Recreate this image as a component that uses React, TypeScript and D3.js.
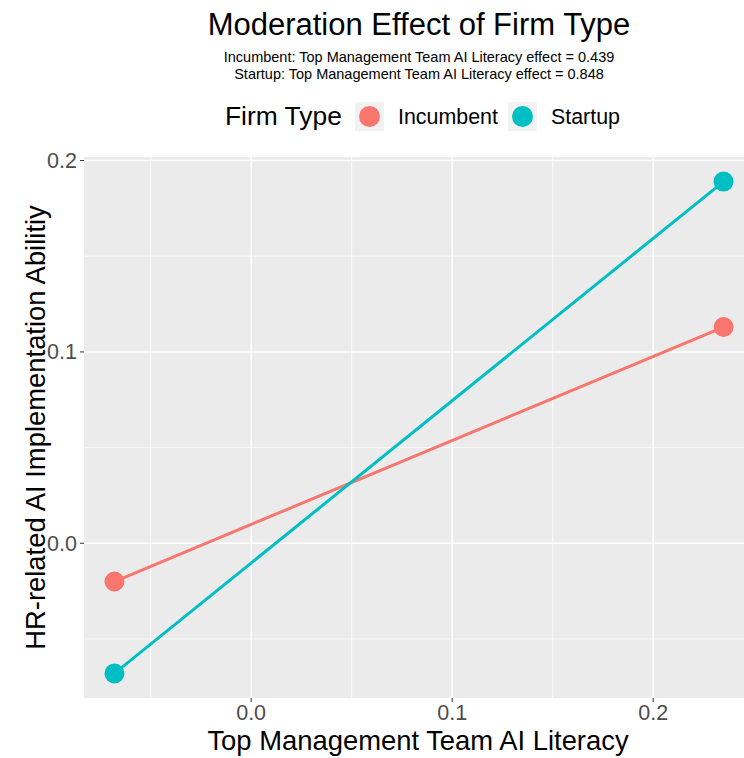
import React from "react";
import * as d3 from "d3";

const seriesNames = ["Incumbent", "Startup"];
const seriesColors = ["#F8766D", "#00BFC4"];
const xValues = [-0.068, 0.235];
const incumbentValues = [-0.02, 0.113];
const startupValues = [-0.068, 0.189];
const effects = ["0.439", "0.848"];
const xTicks = [0.0, 0.1, 0.2];
const yTicks = [0.0, 0.1, 0.2];
const xMinor = [-0.05, 0.05, 0.15];
const yMinor = [-0.05, 0.05, 0.15];

const W = 744;
const H = 758;
const FONT = "'Liberation Sans', Arial, Helvetica, sans-serif";

export default function App() {
  const allY = [...incumbentValues, ...startupValues];
  const xMin = d3.min(xValues)!, xMax = d3.max(xValues)!;
  const yMin = d3.min(allY)!, yMax = d3.max(allY)!;
  const xe = (xMax - xMin) * 0.05;
  const ye = (yMax - yMin) * 0.05;
  const x = d3.scaleLinear().domain([xMin - xe, xMax + xe]).range([84, 754]);
  const y = d3.scaleLinear().domain([yMin - ye, yMax + ye]).range([698, 157]);
  const [px0, px1] = x.range();
  const [py0, py1] = y.range();
  const series = [incumbentValues, startupValues];
  const line = d3.line<number>().x((_, i) => x(xValues[i])).y((d) => y(d));
  const cx = (px0 + px1) / 2;
  const cy = (py0 + py1) / 2;
  const keyX = [355, 508];

  return (
    <svg width={W} height={H} style={{ position: "absolute", left: 0, top: 0, background: "#fff" }} fontFamily={FONT}>
      <rect x={0} y={0} width={W} height={H} fill="#fff" />
      <text x={cx} y={35} textAnchor="middle" fontSize={31} fill="#000">Moderation Effect of Firm Type</text>
      <text x={cx} y={61.5} textAnchor="middle" fontSize={14.5} fill="#000">
        {`${seriesNames[0]}: Top Management Team AI Literacy effect = ${effects[0]}`}
      </text>
      <text x={cx} y={78.5} textAnchor="middle" fontSize={14.5} fill="#000">
        {`${seriesNames[1]}: Top Management Team AI Literacy effect = ${effects[1]}`}
      </text>
      {/* legend */}
      <text x={225} y={125} fontSize={26.4} fill="#000">Firm Type</text>
      {[0, 1].map((i) => {
        const kx = keyX[i];
        return (
          <g key={i}>
            <rect x={kx} y={102} width={29} height={29} fill="#F2F2F2" />
            <circle cx={kx + 14.5} cy={116.5} r={10.5} fill={seriesColors[i]} />
            <text x={kx + 43} y={124} fontSize={21.4} fill="#000">{seriesNames[i]}</text>
          </g>
        );
      })}
      {/* panel */}
      <rect x={px0} y={py1} width={px1 - px0} height={py0 - py1} fill="#EBEBEB" />
      {xMinor.map((v) => (
        <line key={"xm" + v} x1={x(v)} x2={x(v)} y1={py1} y2={py0} stroke="#fff" strokeWidth={0.7} />
      ))}
      {yMinor.map((v) => (
        <line key={"ym" + v} x1={px0} x2={px1} y1={y(v)} y2={y(v)} stroke="#fff" strokeWidth={0.7} />
      ))}
      {xTicks.map((v) => (
        <line key={"xg" + v} x1={x(v)} x2={x(v)} y1={py1} y2={py0} stroke="#fff" strokeWidth={1.5} />
      ))}
      {yTicks.map((v) => (
        <line key={"yg" + v} x1={px0} x2={px1} y1={y(v)} y2={y(v)} stroke="#fff" strokeWidth={1.5} />
      ))}
      {series.map((s, i) => (
        <path key={"l" + i} d={line(s)!} fill="none" stroke={seriesColors[i]} strokeWidth={3} />
      ))}
      {series.map((s, i) =>
        s.map((v, j) => <circle key={"p" + i + j} cx={x(xValues[j])} cy={y(v)} r={10} fill={seriesColors[i]} />)
      )}
      {/* axes */}
      {xTicks.map((v) => (
        <g key={"xt" + v}>
          <line x1={x(v)} x2={x(v)} y1={py0} y2={py0 + 4} stroke="#333" strokeWidth={1} />
          <text x={x(v)} y={720} textAnchor="middle" fontSize={21.5} fill="#4D4D4D">{d3.format(".1f")(v)}</text>
        </g>
      ))}
      {yTicks.map((v) => (
        <g key={"yt" + v}>
          <line x1={px0 - 4} x2={px0} y1={y(v)} y2={y(v)} stroke="#333" strokeWidth={1} />
          <text x={px0 - 7} y={y(v) + 7.5} textAnchor="end" fontSize={21.5} fill="#4D4D4D">{d3.format(".1f")(v)}</text>
        </g>
      ))}
      <text x={cx - 1} y={750} textAnchor="middle" fontSize={27.4} fill="#000">Top Management Team AI Literacy</text>
      <text transform={`translate(45,${cy}) rotate(-90)`} textAnchor="middle" fontSize={27.4} fill="#000">
        HR-related AI Implementation Abilitiy
      </text>
    </svg>
  );
}
